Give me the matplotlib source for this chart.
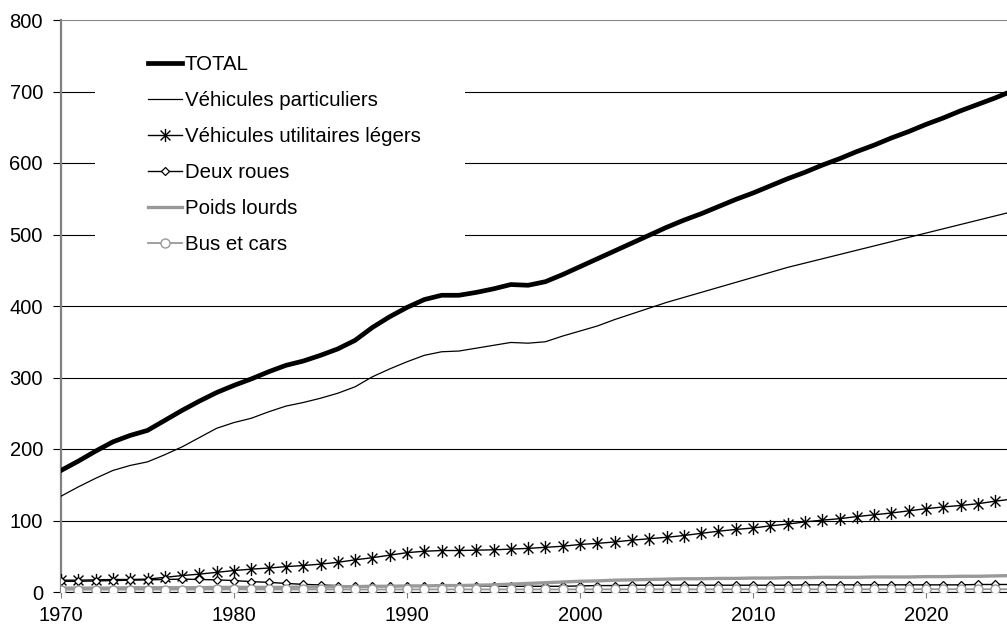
import matplotlib
matplotlib.use('Agg')
import matplotlib.pyplot as plt
from matplotlib.path import Path
from matplotlib.patches import Rectangle

plt.rcParams['font.family'] = ['Liberation Sans', 'DejaVu Sans']

years = list(range(1970, 2026))

total = [170, 183, 197, 210, 219, 226, 240, 254, 267, 279,
         289, 298, 308, 317, 323, 331, 340, 352, 370, 385,
         398, 409, 415, 415, 419, 424, 430, 429, 434, 444,
         455, 466, 477, 488, 499, 510, 520, 529, 539, 549,
         558, 568, 578, 587, 597, 606, 616, 625, 635, 644,
         654, 663, 673, 682, 691, 701]

vp = [134, 147, 159, 170, 177, 182, 192, 203, 216, 229,
      237, 243, 252, 260, 265, 271, 278, 287, 301, 312,
      322, 331, 336, 337, 341, 345, 349, 348, 350, 358,
      365, 372, 381, 389, 397, 405, 412, 419, 426, 433,
      440, 447, 454, 460, 466, 472, 478, 484, 490, 496,
      502, 508, 514, 520, 526, 532]

vul = [16.5, 16.5, 17, 17.5, 17.5, 18, 20.5, 23, 25, 27.5,
       30, 32, 33.5, 35.5, 37, 39, 41.5, 45, 48, 51.5,
       55, 57, 58, 58, 58.5, 59, 60, 61, 62.5, 64,
       66.5, 68, 70, 72.5, 74.5, 76.5, 79, 82, 85, 87.5,
       89.5, 92.5, 95, 98, 100.5, 102.5, 105.5, 108, 110.5, 113.5,
       116.5, 119, 121, 123.5, 127, 130]

deux_roues = [15, 15, 15.5, 16, 16.5, 17, 17.5, 18, 17.5, 17,
              16, 14.5, 13.5, 12, 10.7, 9.8, 9, 8.5, 8.2, 8,
              8, 8, 8, 8, 8, 8, 8, 8, 8, 8,
              8.5, 9, 9, 9.5, 9.5, 9.5, 9.5, 9.5, 9.5, 9.5,
              9.5, 9.5, 9.5, 10, 10, 10, 10, 10, 10, 10,
              10, 10, 10, 10.5, 10.5, 10.5]

poids_lourds = [5.5, 5.5, 5.5, 5.5, 6, 6, 6, 6, 6, 6.5,
                6.5, 6.5, 6.5, 6.5, 7, 7, 7.5, 7.5, 8, 8,
                8.5, 8.5, 9, 9, 9.5, 10, 11, 12, 13, 14,
                15, 15.5, 16.5, 17, 17.5, 18, 18.5, 18.5, 19, 19,
                19.5, 19.5, 20, 20, 20.5, 20.5, 20.5, 21, 21, 21,
                21.5, 21.5, 22, 22, 22.5, 23]

bus_cars = [3.2, 3.2, 3.3, 3.3, 3.3, 3.4, 3.4, 3.4, 3.4, 3.5,
            3.5, 3.5, 3.5, 3.5, 3.5, 3.5, 3.5, 3.5, 3.5, 3.5,
            3.6, 3.6, 3.6, 3.6, 3.6, 3.6, 3.6, 3.6, 3.6, 3.6,
            3.7, 3.7, 3.7, 3.7, 3.7, 3.7, 3.7, 3.7, 3.7, 3.7,
            3.8, 3.8, 3.8, 3.8, 3.8, 3.8, 3.8, 3.8, 3.8, 3.8,
            3.9, 3.9, 3.9, 3.9, 3.9, 3.9]

labels = ['TOTAL', 'Véhicules particuliers', 'Véhicules utilitaires légers',
          'Deux roues', 'Poids lourds', 'Bus et cars']

# excel style star: vertical bar + x
star = Path([(0, -1), (0, 1), (-0.75, -0.75), (0.75, 0.75), (-0.75, 0.75), (0.75, -0.75)],
            [Path.MOVETO, Path.LINETO, Path.MOVETO, Path.LINETO, Path.MOVETO, Path.LINETO])

W, H = 1007, 635
fig = plt.figure(figsize=(W / 100, H / 100), dpi=100)
# axes runs a little past the right edge of the picture (2025 is cut off)
ax = fig.add_axes([61 / W, (H - 592) / H, 951.5 / W, 572 / H])

grey = '#999999'
ax.plot(years, total, color='black', lw=3.4, label=labels[0], zorder=5)
ax.plot(years, vp, color='black', lw=0.9, label=labels[1], zorder=5)
ax.plot(years, vul, color='black', lw=1.0, marker=star, ms=9.5, mew=1.0,
        mfc='none', mec='black', label=labels[2], zorder=5)
ax.plot(years, deux_roues, color='black', lw=1.0, marker='D', ms=4.3, mew=0.9,
        mfc='white', mec='black', label=labels[3], zorder=5)
ax.plot(years, poids_lourds, color=grey, lw=2.4, label=labels[4], zorder=5)
ax.plot(years, bus_cars, color=grey, lw=1.3, marker='o', ms=6.5, mew=1.0,
        mfc='white', mec=grey, label=labels[5], zorder=5)

ax.set_xlim(1970, 2025)
ax.set_ylim(0, 800)
ax.set_yticks(range(0, 801, 100))
ax.set_xticks(range(1970, 2021, 10))

ax.yaxis.grid(True, color='black', lw=0.8)
ax.set_axisbelow(True)
ax.get_ygridlines()[-1].set_color('#888888')

for s in ['top', 'right']:
    ax.spines[s].set_visible(False)
ax.spines['left'].set_color('#808080')
ax.spines['left'].set_linewidth(1.6)
ax.spines['bottom'].set_color('black')
ax.spines['bottom'].set_linewidth(0.8)

ax.tick_params(axis='y', direction='out', length=6, width=0.8, color='black',
               pad=7, labelsize=14.5)
ax.tick_params(axis='x', direction='out', length=4, width=0.8, color='#808080',
               pad=6, labelsize=14.5)

# white block behind the legend hides the gridlines
ax.add_patch(Rectangle((34 / 951.5, (592 - 280) / 572), 370 / 951.5, 250 / 572,
                       transform=ax.transAxes, facecolor='white', edgecolor='none',
                       zorder=2))

leg = ax.legend(loc='upper left', bbox_to_anchor=(87 / 951.5, 0.938),
                frameon=False, fontsize=14.7, handlelength=1.65, handletextpad=0.15,
                labelspacing=0.83, borderpad=0, borderaxespad=0)
leg.set_zorder(6)

fig.savefig('out.png', dpi=100)
